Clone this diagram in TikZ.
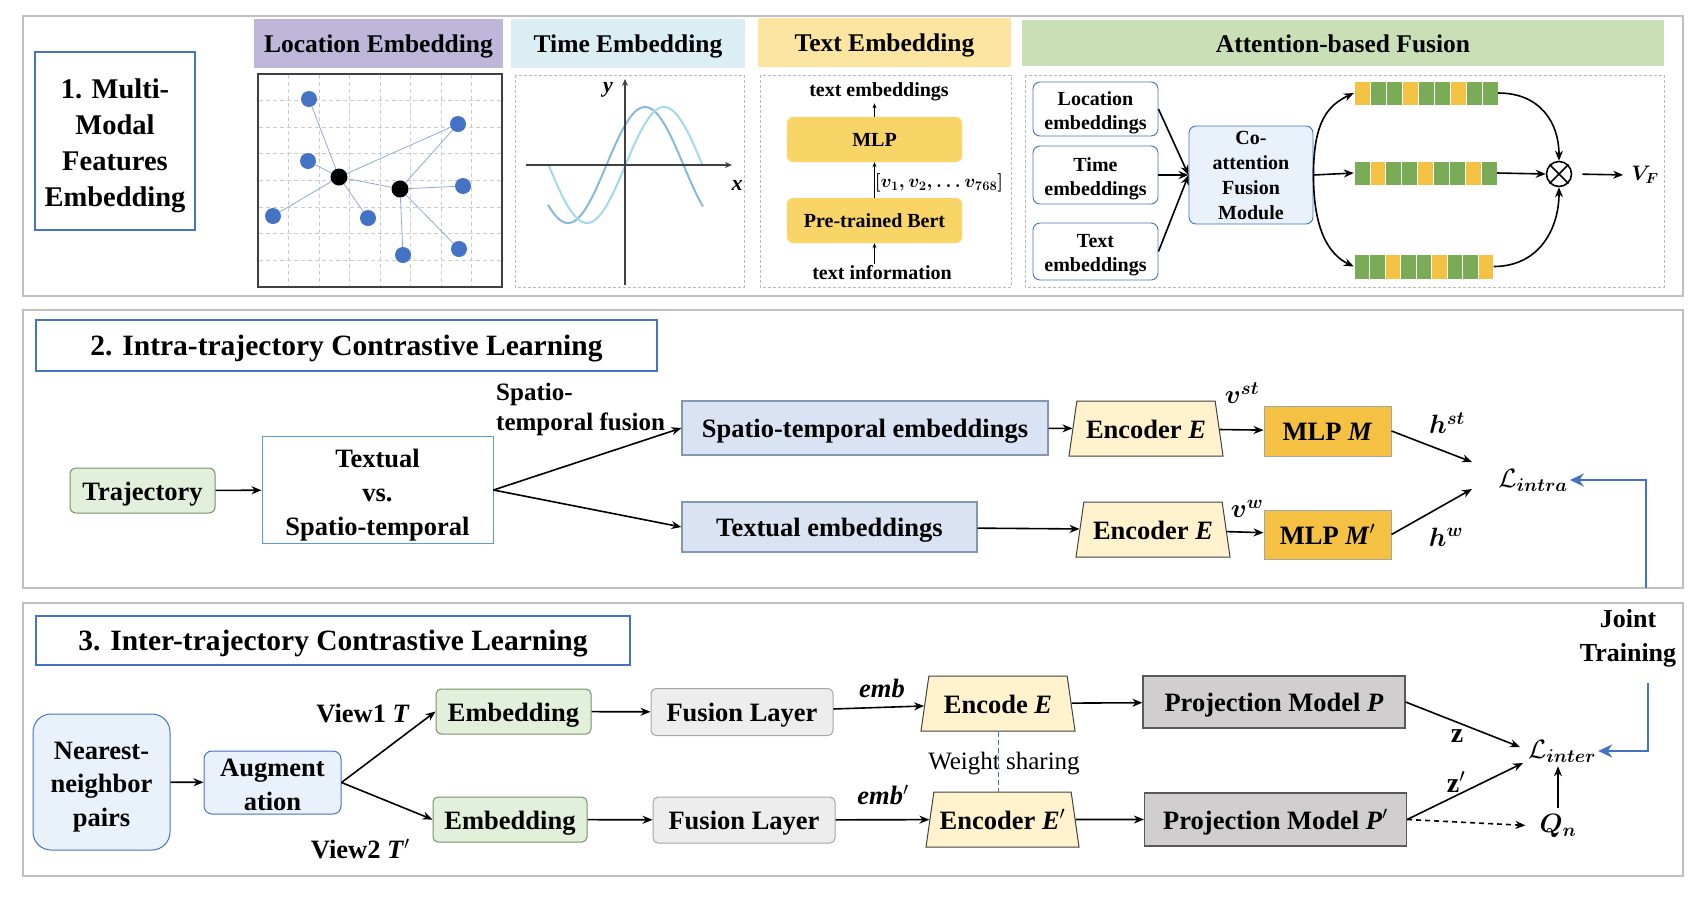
\documentclass[tikz,border=0pt]{standalone}
\usepackage{fix-cm}
\usepackage{amsmath,bm}
\usepackage{fontspec}
\setmainfont{Liberation Serif}
\usetikzlibrary{shapes.geometric,arrows.meta}

\definecolor{frameGray}{RGB}{191,191,191}
\definecolor{boxBlue}{RGB}{68,114,196}
\definecolor{lineBlue}{RGB}{91,155,213}
\definecolor{locHead}{RGB}{190,183,218}
\definecolor{timeHead}{RGB}{218,238,243}
\definecolor{textHead}{RGB}{252,229,160}
\definecolor{attHead}{RGB}{201,224,182}
\definecolor{dotBlue}{RGB}{68,114,196}
\definecolor{linkBlue}{RGB}{143,170,220}
\definecolor{waveA}{RGB}{133,186,221}
\definecolor{waveB}{RGB}{160,218,235}
\definecolor{bertYellow}{RGB}{249,212,102}
\definecolor{coBlue}{RGB}{233,241,250}
\definecolor{barY}{RGB}{244,194,66}
\definecolor{barG}{RGB}{122,171,86}
\definecolor{embGreen}{RGB}{226,239,218}
\definecolor{embLine}{RGB}{120,145,105}
\definecolor{stBlue}{RGB}{218,227,243}
\definecolor{stLine}{RGB}{132,151,176}
\definecolor{encYellow}{RGB}{255,242,204}
\definecolor{mlpGold}{RGB}{244,193,66}
\definecolor{projGray}{RGB}{208,206,206}
\definecolor{fuseGray}{RGB}{237,237,237}

\newcommand{\tstrut}[1]{\rule{0pt}{#1pt}}

\begin{document}
\begin{tikzpicture}[x=1pt, y=-1pt,
    every node/.style={font=\bfseries\fontsize{26.5}{33}\selectfont, inner sep=2pt, align=center},
    one/.style={text height=24.5pt, text depth=5pt},
    sm/.style={font=\bfseries\fontsize{20}{24}\selectfont},
    panel/.style={draw=frameGray, line width=2pt},
    ttl/.style={draw=boxBlue, line width=1.8pt, font=\bfseries\fontsize{29.5}{35}\selectfont, text height=26pt, text depth=5.5pt},
    head/.style={minimum height=49, font=\bfseries\fontsize{25.5}{30}\selectfont, text height=23.5pt, text depth=4.8pt},
    content/.style={draw=gray!55, line width=0.8pt, dash pattern=on 3pt off 2pt},
    gridl/.style={draw=gray!40, line width=0.8pt, dash pattern=on 4pt off 3pt},
    dot/.style={circle, fill=dotBlue, minimum size=16, inner sep=0},
    hub/.style={circle, fill=black, minimum size=17, inner sep=0},
    link/.style={draw=linkBlue, line width=0.8pt},
    axis/.style={draw=black!75, line width=1.3pt, -{Stealth[length=7pt,width=6pt]}},
    ybox/.style={sm, rounded corners=6, fill=bertYellow, draw=bertYellow!70!white, minimum width=175, minimum height=45},
    ebox/.style={sm, rounded corners=7, draw=boxBlue, line width=0.9pt, minimum width=125},
    arr/.style={-{Stealth[length=10pt,width=8pt]}, line width=1.6pt},
    tarr/.style={-{Stealth[length=5pt,width=4pt]}, line width=1pt},
    jarr/.style={-{Stealth[length=14pt,width=13pt]}, draw=boxBlue, line width=2.8pt},
    trajbox/.style={one, rounded corners=6, fill=embGreen, draw=embLine, line width=1pt, minimum width=145, minimum height=45},
    stbox/.style={one, fill=stBlue, draw=stLine, line width=1.2pt, minimum height=50},
    lbbox/.style={fill=coBlue, draw=boxBlue, line width=1pt, font=\bfseries\fontsize{26.5}{33.5}\selectfont},
    enc/.style={one, trapezium, trapezium left angle=76, trapezium right angle=76, trapezium stretches body,
      fill=encYellow, draw=black!75, line width=1pt, minimum height=55, minimum width=154, inner sep=1pt},
    mlp/.style={one, fill=mlpGold, draw=gray!70, line width=1pt, minimum width=127, minimum height=50},
    emb/.style={one, rounded corners=5, fill=embGreen, draw=embLine, line width=1pt, minimum width=155, minimum height=45},
    fuse/.style={one, rounded corners=5, fill=fuseGray, draw=gray!70, line width=1pt, minimum width=182, minimum height=47},
    proj/.style={one, fill=projGray, draw=black!65, line width=1.2pt, minimum width=262, minimum height=52},
    lab/.style={font=\fontsize{26.5}{30}\selectfont}]
  \useasboundingbox (0,0) rectangle (1706,898);

  \draw[panel] (23,16) rectangle (1683,296);
  \draw[panel] (23,310) rectangle (1683,588);
  \draw[panel] (23,603) rectangle (1683,876);

  \node[draw=boxBlue, line width=1.8pt, font=\bfseries\fontsize{28.5}{36}\selectfont, minimum width=160, minimum height=178] (mm) at (115,141) {\tstrut{28.5}1. Multi-\\Modal\\Features\\Embedding};
  \node[head, fill=locHead, minimum width=249] (hloc) at (378.5,43) {Location Embedding};
  \node[head, fill=timeHead, minimum width=234] (htime) at (628,43) {Time Embedding};
  \node[head, fill=textHead, minimum width=253] (htext) at (884.5,42) {Text Embedding};
  \node[head, fill=attHead, minimum width=642, minimum height=46] (hatt) at (1343,43) {Attention-based Fusion};

  \foreach \i in {1,...,7} {
    \draw[gridl] ({258+30.5*\i},75) -- ({258+30.5*\i},286);
    \draw[gridl] (259,{74+26.6*\i}) -- (501,{74+26.6*\i});
  }
  \draw[black!75, line width=1.2pt] (258,74) rectangle (502,287);
  \node[hub] (c1) at (339,177) {};
  \node[hub] (c2) at (400,189) {};
  \node[dot] (l1) at (309,99) {};
  \node[dot] (l2) at (458,124) {};
  \node[dot] (l3) at (308,161) {};
  \node[dot] (l4) at (463,186) {};
  \node[dot] (l5) at (273,216) {};
  \node[dot] (l6) at (368,218) {};
  \node[dot] (l7) at (459,249) {};
  \node[dot] (l8) at (403,255) {};
  \draw[link] (c1) -- (l1) (c1) -- (l3) (c1) -- (l5) (c1) -- (l6) (c1) -- (l2) (c1) -- (c2)
    (c2) -- (l2) (c2) -- (l4) (c2) -- (l7) (c2) -- (l8);

  \draw[content] (515,75) rectangle (744,287);
  \draw[waveA, line width=2pt] plot[domain=548:703, samples=80] (\x,{165+58*cos(2.3377*(\x-568))});
  \draw[waveB, line width=2pt] plot[domain=548:703, samples=80] (\x,{165+58*cos(2.3377*(\x-587))});
  \draw[axis] (526,165) -- (732,165);
  \draw[axis] (625,285) -- (625,79);
  \node[font=\bfseries\itshape\fontsize{22}{24}\selectfont] (ylab) at (608,90) {y};
  \node[font=\bfseries\itshape\fontsize{22}{24}\selectfont] (xlab) at (737,185) {x};

  \draw[content] (760,75) rectangle (1011,287);
  \node[sm] (temb) at (879,92) {text embeddings};
  \node[ybox] (mlp0) at (874.5,139.5) {MLP};
  \node[ybox] (bert) at (874.5,220.5) {Pre-trained Bert};
  \node[sm] (tinfo) at (882,273) {text information};
  \node[font=\boldmath\fontsize{18.5}{22}\selectfont] (vvec) at (939,183) {$[v_1, v_2, \ldots v_{768}]$};
  \draw[tarr] (bert.north) -- (mlp0.south);
  \draw[tarr] (mlp0.north) -- (mlp0.north |- temb.south);
  \draw[tarr] (bert.south |- tinfo.north) -- (bert.south);

  \draw[content] (1025,75) rectangle (1664,287);
  \node[ebox, minimum height=54] (le) at (1095.5,109) {\tstrut{20.5}Location\\embeddings};
  \node[ebox, minimum height=58] (te) at (1095.5,175) {\tstrut{20.5}Time\\embeddings};
  \node[ebox, minimum height=57] (xe) at (1095.5,251.5) {\tstrut{20.5}Text\\embeddings};
  \node[ebox, fill=coBlue, minimum width=124, minimum height=98, font=\bfseries\fontsize{20}{25}\selectfont] (co) at (1251,175) {Co-\\attention\\Fusion\\Module};
  \draw[arr] (le.east) -- (co.west);
  \draw[arr] (te.east) -- (co.west);
  \draw[arr] (xe.east) -- (co.west);
  \foreach \c [count=\i from 0] in {barY,barG,barG,barY,barG,barG,barY,barG,barG}
    \filldraw[fill=\c, draw=white, line width=0.8pt] ({1354+16*\i},81) rectangle +(16,24);
  \foreach \c [count=\i from 0] in {barG,barY,barG,barG,barY,barG,barG,barY,barG}
    \filldraw[fill=\c, draw=white, line width=0.8pt] ({1354+15.9*\i},161) rectangle +(15.9,24);
  \foreach \c [count=\i from 0] in {barG,barG,barY,barG,barG,barY,barG,barG,barY}
    \filldraw[fill=\c, draw=white, line width=0.8pt] ({1354+15.5*\i},254) rectangle +(15.5,25);
  \node[minimum width=144, minimum height=24, inner sep=0] (b1) at (1426,93) {};
  \node[minimum width=143, minimum height=24, inner sep=0] (b2) at (1425.5,173) {};
  \node[minimum width=139.5, minimum height=25, inner sep=0] (b3) at (1423.75,266.5) {};
  \node[circle, draw, line width=1.6pt, minimum size=25, inner sep=0] (ot) at (1559,174) {};
  \draw[line width=1.6pt] (ot.north west) -- (ot.south east) (ot.north east) -- (ot.south west);
  \node[font=\fontsize{21}{24}\selectfont] (vf) at (1645,175) {$\bm{V_F}$};
  \draw[arr] (co.east) .. controls +(0,-55) and +(-25,12) .. (b1.west);
  \draw[arr] (co.east) -- (b2.west);
  \draw[arr] (co.east) .. controls +(0,55) and +(-25,-12) .. (b3.west);
  \draw[arr] (b1.east) .. controls +(42,0) and +(0,-38) .. (ot.north);
  \draw[arr] (b2.east) -- (ot.west);
  \draw[arr] (b3.east) .. controls +(45,0) and +(0,42) .. (ot.south);
  \draw[arr, shorten <=10pt, shorten >=6pt] (ot.east) -- (vf.west);

  \node[ttl, minimum width=621, minimum height=51] (t2) at (346.5,345.5) {2. Intra-trajectory Contrastive Learning};
  \node[trajbox] (traj) at (142.5,490.5) {Trajectory};
  \node[draw=lineBlue, line width=1pt, minimum width=231, minimum height=98, font=\bfseries\fontsize{26.5}{34}\selectfont] (tvs) at (377.5,490) {\tstrut{28.5}Textual\\vs.\\Spatio-temporal};
  \node[font=\bfseries\fontsize{25}{30}\selectfont, align=left, anchor=west] (stf) at (494,409) {Spatio-\\temporal fusion};
  \node[stbox, minimum width=366, minimum height=54] (ste) at (865,428) {Spatio-temporal embeddings};
  \node[stbox, minimum width=295] (txe) at (829.5,527) {Textual embeddings};
  \node[enc] (enc1) at (1146,428.5) {Encoder \textit{E}};
  \node[enc] (enc2) at (1153,529.5) {Encoder \textit{E}};
  \node[mlp] (mlp1) at (1327.5,431) {MLP \textit{M}};
  \node[mlp, minimum height=49] (mlp2) at (1327.5,534.5) {MLP \textit{M}$'$};
  \node[lab] (vst) at (1242,393) {$\bm{v}^{\bm{st}}$};
  \node[lab] (vw) at (1247,509) {$\bm{v}^{\bm{w}}$};
  \node[lab] (hst) at (1447,423) {$\bm{h}^{\bm{st}}$};
  \node[lab] (hw) at (1446,537) {$\bm{h}^{\bm{w}}$};
  \node[lab] (li) at (1533,480) {$\mathcal{L}_{\bm{intra}}$};
  \coordinate (li1) at (1472,462);
  \coordinate (li2) at (1472,489);
  \coordinate (jt2) at (1646,588);
  \draw[arr] (traj) -- (tvs);
  \draw[arr] (tvs.east) -- (ste.west);
  \draw[arr] (tvs.east) -- (txe.west);
  \draw[arr] (ste) -- (enc1);
  \draw[arr] (txe) -- (enc2);
  \draw[arr] (enc1) -- (mlp1);
  \draw[arr] (enc2) -- (mlp2);
  \draw[arr] (mlp1.east) -- (li1);
  \draw[arr] (mlp2.east) -- (li2);
  \draw[jarr] (jt2) |- (li.east);

  \node[ttl, minimum width=594, minimum height=49] (t3) at (333,640.5) {3. Inter-trajectory Contrastive Learning};
  \node[lbbox, rounded corners=18, minimum width=137, minimum height=136] (nn) at (101.5,782) {\tstrut{27}Nearest-\\neighbor\\pairs};
  \node[lbbox, rounded corners=8, minimum width=137, minimum height=63] (aug) at (272.5,782.5) {\tstrut{22}Augment\\ation};
  \node[anchor=east] (v1) at (412,713) {View1 \textit{T}};
  \node[anchor=east] (v2) at (412,849) {View2 \textit{T}$'$};
  \node[emb] (emb1) at (513.5,711.5) {Embedding};
  \node[emb, minimum width=154] (emb2) at (510,819.5) {Embedding};
  \node[fuse] (fl1) at (742,712) {Fusion Layer};
  \node[fuse, minimum height=46] (fl2) at (744,820) {Fusion Layer};
  \node[font=\bfseries\itshape\fontsize{26.5}{30}\selectfont] (eb1) at (882,688) {emb};
  \node[font=\bfseries\itshape\fontsize{26.5}{30}\selectfont] (eb2) at (883,795) {emb$'$};
  \node[enc] (enc3) at (998,703.5) {Encode \textit{E}};
  \node[enc, minimum width=153] (enc4) at (1002.5,819.5) {Encoder \textit{E}$'$};
  \node[font=\fontsize{25}{30}\selectfont] (ws) at (1004,764) {Weight sharing};
  \node[proj] (pm1) at (1274,702) {Projection Model \textit{P}};
  \node[proj, minimum height=53] (pm2) at (1275.5,819.5) {Projection Model \textit{P}$'$};
  \node[font=\bfseries\fontsize{28}{30}\selectfont] (z1) at (1457,736) {z};
  \node[font=\bfseries\fontsize{28}{30}\selectfont] (z2) at (1456,782) {z$'$};
  \node[lab] (lt) at (1562,751) {$\mathcal{L}_{\bm{inter}}$};
  \node[lab] (qn) at (1558,826) {$\bm{Q_n}$};
  \node[font=\bfseries\fontsize{26}{34}\selectfont] (jt) at (1628,638) {Joint\\Training};
  \coordinate (lt1) at (1520,747);
  \coordinate (lt2) at (1523,763);
  \coordinate (jt3) at (1648,683);
  \draw[arr] (nn) -- (aug);
  \draw[arr] (aug.east) -- (emb1.west);
  \draw[arr] (aug.east) -- (emb2.west);
  \draw[arr] (emb1) -- (fl1);
  \draw[arr] (emb2) -- (fl2);
  \draw[arr] (fl1) -- (enc3);
  \draw[arr] (fl2) -- (enc4);
  \draw[arr] (enc3) -- (pm1);
  \draw[arr] (enc4) -- (pm2);
  \draw[draw=boxBlue, line width=1pt, dash pattern=on 5pt off 3pt] (enc3.south) -- (enc3.south |- enc4.north);
  \draw[arr] (pm1.east) -- (lt1);
  \draw[arr] (pm2.east) -- (lt2);
  \draw[arr, dash pattern=on 5pt off 4pt, shorten >=12pt] (pm2.east) -- (qn.west);
  \draw[arr, shorten <=4pt, shorten >=2pt] (qn.north) -- (qn.north |- lt.south);
  \draw[jarr] (jt3) |- (lt.east);
\end{tikzpicture}
\end{document}
